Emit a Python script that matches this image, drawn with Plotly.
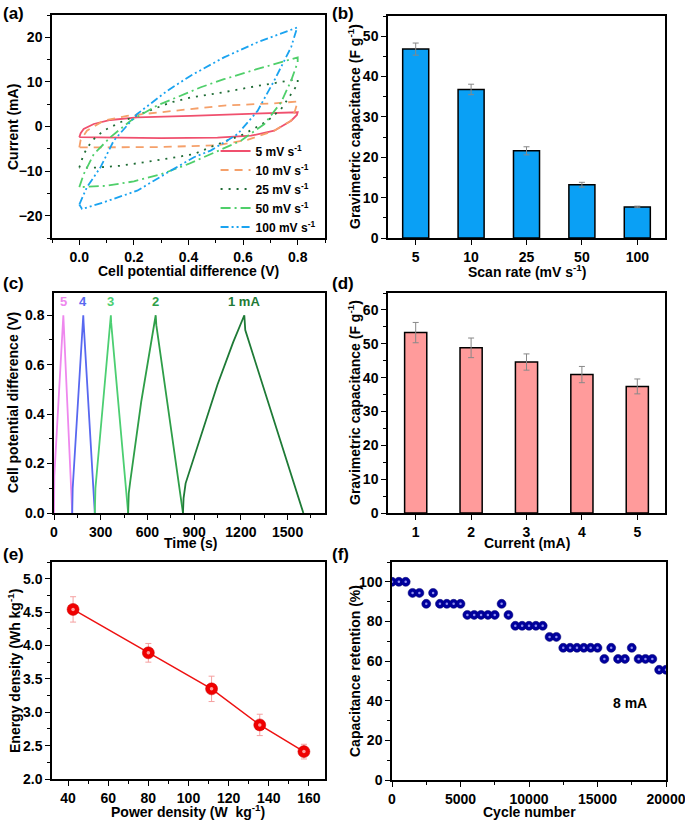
import plotly.graph_objects as go

W, H = 685, 820
FONT = "Liberation Sans"

# ---------------- (a) CV data ----------------
cv_labels = ["5 mV s<sup>-1</sup>", "10 mV s<sup>-1</sup>", "25 mV s<sup>-1</sup>",
             "50 mV s<sup>-1</sup>", "100 mV s<sup>-1</sup>"]
V5 = [0.0, 0.005, 0.016, 0.053, 0.114, 0.212, 0.408, 0.653, 0.8, 0.797, 0.776, 0.714, 0.629, 0.506, 0.3, 0.0]
I5 = [-2.4, -1.5, -0.56, 0.56, 1.46, 2.06, 2.4, 2.96, 3.2, 2.6, 1.3, -0.94, -2.06, -2.5, -2.6, -2.4]
V10 = [0.0, 0.005, 0.028, 0.089, 0.175, 0.408, 0.53, 0.714, 0.8, 0.79, 0.776, 0.714, 0.616, 0.506, 0.3, 0.0]
I10 = [-4.7, -3.0, -0.94, 1.3, 2.4, 3.9, 4.7, 5.2, 5.6, 3.5, 1.3, -0.94, -3.0, -4.2, -4.6, -4.7]
V25 = [0.0, 0.016, 0.046, 0.089, 0.15, 0.224, 0.335, 0.408, 0.53, 0.653, 0.8, 0.8, 0.776, 0.739, 0.69, 0.604,
       0.493, 0.42, 0.273, 0.15, 0.065, 0.0]
I25 = [-9.2, -6.2, -3.2, -0.94, 0.94, 2.8, 5.4, 6.5, 7.7, 9.1, 10.6, 9.5, 7.3, 3.9, 1.3, -1.7,
       -4.3, -6.2, -7.7, -8.8, -9.2, -9.2]
V50 = [0.0, 0.016, 0.053, 0.114, 0.188, 0.285, 0.445, 0.53, 0.653, 0.8, 0.8, 0.776, 0.739, 0.678, 0.592,
       0.481, 0.4, 0.3, 0.2, 0.1, 0.0]
I50 = [-13.6, -10.7, -6.2, -2.4, 1.3, 4.7, 8.8, 10.6, 12.9, 15.5, 14.4, 10.3, 5.4, 0.56, -3.2,
       -6.2, -8.4, -10.7, -12.3, -13.3, -13.6]
V100 = [0.0, 0.028, 0.077, 0.126, 0.212, 0.322, 0.408, 0.53, 0.653, 0.798, 0.776, 0.714, 0.653, 0.58,
        0.481, 0.42, 0.335, 0.212, 0.089, 0.01, 0.0]
I100 = [-17.5, -13.6, -9.2, -3.2, 2.8, 8.0, 11.4, 15.5, 18.9, 22.2, 17.8, 10.3, 3.5, -1.7,
        -5.4, -6.9, -9.9, -14.4, -17.0, -18.5, -17.5]
cv_colors = ["#f0506e", "#f5a06a", "#1e6b34", "#4fcf6a", "#1aa3f0"]
cv_dash = ["solid", "8px,6px", "2px,6px", "10px,4px,2px,4px", "8px,3px,2px,3px,2px,3px"]

# ---------------- (b) scan-rate bars ----------------
scan_rates = ["5", "10", "25", "50", "100"]
cap_scan = [46.8, 36.8, 21.6, 13.2, 7.7]
cap_scan_err = [1.5, 1.3, 1.0, 0.6, 0.2]

# ---------------- (c) GCD ----------------
gcd_labels = ["5", "4", "3", "2", "1 mA"]
gcd_t = [
    [0, 2, 60, 62, 117],
    [117, 120, 188, 190, 262],
    [262, 266, 365, 367, 476],
    [476, 480, 490, 560, 653, 657, 828],
    [828, 832, 845, 950, 1050, 1150, 1222, 1228, 1601],
]
gcd_v = [
    [0, 0.15, 0.8, 0.77, 0],
    [0, 0.1, 0.8, 0.77, 0],
    [0, 0.1, 0.8, 0.77, 0],
    [0, 0.08, 0.13, 0.45, 0.8, 0.76, 0],
    [0, 0.06, 0.12, 0.33, 0.52, 0.69, 0.8, 0.74, 0],
]
gcd_peak_t = [60, 188, 365, 653, 1222]
gcd_colors = ["#ee88ee", "#5868f0", "#4ccf72", "#2e9e48", "#1e7a36"]

# ---------------- (d) current bars ----------------
currents = ["1", "2", "3", "4", "5"]
cap_cur = [53.3, 48.8, 44.6, 40.9, 37.4]
cap_cur_err = [3.0, 2.9, 2.4, 2.4, 2.2]

# ---------------- (e) Ragone ----------------
power = [42.5, 80.0, 111.5, 135.5, 157.5]
energy = [4.54, 3.89, 3.35, 2.81, 2.41]
energy_err = [0.19, 0.14, 0.19, 0.16, 0.11]

# ---------------- (f) cycling ----------------
cycles = [0, 500, 1000, 1500, 2000, 2500, 3000, 3500, 4000, 4500, 5000, 5500, 6000, 6500, 7000, 7500,
          8000, 8500, 9000, 9500, 10000, 10500, 11000, 11500, 12000, 12500, 13000, 13500, 14000, 14500,
          15000, 15500, 16000, 16500, 17000, 17500, 18000, 18500, 19000, 19500, 20000]
retention = [100, 100, 100, 94.4, 94.4, 88.9, 94.4, 88.9, 88.9, 88.9, 88.9, 83.3, 83.3, 83.3, 83.3, 83.3,
             88.9, 83.3, 77.8, 77.8, 77.8, 77.8, 77.8, 72.2, 72.2, 66.7, 66.7, 66.7, 66.7, 66.7,
             66.7, 61.1, 66.7, 61.1, 61.1, 66.7, 61.1, 61.1, 61.1, 55.6, 55.6]

fig = go.Figure()

for k in range(5):
    fig.add_trace(go.Scatter(x=[V5, V10, V25, V50, V100][k], y=[I5, I10, I25, I50, I100][k],
                             mode="lines", name=cv_labels[k],
                             line=dict(color=cv_colors[k], width=1.8, dash=cv_dash[k]),
                             xaxis="x", yaxis="y"))

fig.add_trace(go.Bar(x=scan_rates, y=cap_scan, width=0.47,
                     marker=dict(color="#0aa0f5", line=dict(color="black", width=1.5)),
                     error_y=dict(type="data", array=cap_scan_err, color="#888888", thickness=1, width=3),
                     showlegend=False, xaxis="x2", yaxis="y2"))

for k in range(5):
    fig.add_trace(go.Scatter(x=gcd_t[k], y=gcd_v[k], mode="lines",
                             line=dict(color=gcd_colors[k], width=1.8),
                             showlegend=False, xaxis="x3", yaxis="y3"))

fig.add_trace(go.Bar(x=currents, y=cap_cur, width=0.4,
                     marker=dict(color="#ff9b9b", line=dict(color="black", width=1.5)),
                     error_y=dict(type="data", array=cap_cur_err, color="#888888", thickness=1, width=3),
                     showlegend=False, xaxis="x4", yaxis="y4"))

fig.add_trace(go.Scatter(x=power, y=energy, mode="lines+markers",
                         line=dict(color="#ee1111", width=1.5),
                         marker=dict(size=12, color="#f00000", line=dict(color="#c80000", width=0.5)),
                         error_y=dict(type="data", array=energy_err, color="#f5a0a0", thickness=1, width=3),
                         showlegend=False, xaxis="x5", yaxis="y5"))
fig.add_trace(go.Scatter(x=power, y=energy, mode="markers",
                         marker=dict(size=3.5, color="#ff9a9a", line=dict(width=0)),
                         hoverinfo="skip", showlegend=False, xaxis="x5", yaxis="y5"))

fig.add_trace(go.Scatter(x=cycles, y=retention, mode="markers",
                         marker=dict(size=9, color="#00009e", line=dict(color="#00006e", width=0.5)),
                         showlegend=False, xaxis="x6", yaxis="y6"))
fig.add_trace(go.Scatter(x=cycles, y=retention, mode="markers",
                         marker=dict(size=2.5, color="#9090f0", line=dict(width=0)),
                         hoverinfo="skip", showlegend=False, xaxis="x6", yaxis="y6"))

tickfont = dict(family=FONT, size=14, color="black", weight="bold")


def ax(domain, rng=None, dtick=None, minor=None, anchor=None, cat=False, fmt=None):
    d = dict(domain=domain, anchor=anchor, showline=True, linecolor="black", linewidth=1.5,
             mirror=True, ticks="outside", ticklen=5, tickwidth=1.3, tickcolor="black",
             showgrid=False, zeroline=False, tickfont=tickfont, ticklabeloverflow="allow",
             automargin=False)
    if rng is not None:
        d["range"] = rng
    if dtick is not None:
        d["dtick"] = dtick
        d["tick0"] = 0
    if minor is not None:
        d["minor"] = dict(ticks="outside", ticklen=3, dtick=minor, tickcolor="black", tickwidth=1, showgrid=False)
    if cat:
        d["type"] = "category"
    if fmt is not None:
        d["tickformat"] = fmt
    return d


def xd(a, b):
    return [a / W, b / W]


def yd(top, bottom):
    return [1 - bottom / H, 1 - top / H]


fig.update_layout(
    template="none",
    width=W, height=H, autosize=False, margin=dict(l=0, r=0, t=0, b=0, pad=0),
    paper_bgcolor="white", plot_bgcolor="white",
    font=dict(family=FONT, size=14, color="black", weight="bold"),
    xaxis=ax(xd(52, 325), [-0.1, 0.9], 0.2, 0.1, "y", fmt=".1f"),
    yaxis=ax(yd(15, 238), [-25, 25], 10, 5, "x"),
    xaxis2=ax(xd(388, 665), [-0.5, 4.5], None, None, "y2", cat=True),
    yaxis2=ax(yd(16, 238), [0, 55], 10, 5, "x2"),
    xaxis3=ax(xd(54, 325), [0, 1740], 300, 150, "y3"),
    yaxis3=ax(yd(293, 513), [0, 0.89], 0.2, 0.1, "x3", fmt=".1f"),
    xaxis4=ax(xd(388, 665), [-0.5, 4.5], None, None, "y4", cat=True),
    yaxis4=ax(yd(293, 513), [0, 65], 10, 5, "x4"),
    xaxis5=ax(xd(52, 325), [32, 168], 20, 10, "y5"),
    yaxis5=ax(yd(562, 779), [2.0, 5.25], 0.5, 0.25, "x5", fmt=".1f"),
    xaxis6=ax(xd(392, 666), [0, 20000], 5000, 2500, "y6", fmt="d"),
    yaxis6=ax(yd(562, 780), [0, 110], 20, 10, "x6"),
    legend=dict(x=0.468, y=1 - 189 / H, xanchor="right", yanchor="middle", bgcolor="rgba(0,0,0,0)",
                font=dict(family=FONT, size=12, color="black", weight="bold"),
                tracegroupgap=0, itemwidth=30, borderwidth=0),
    showlegend=True,
)

annotations = []


def txt(text, px, py, size=14, angle=0, color="black", xanchor="center", yanchor="middle"):
    annotations.append(dict(text=text, x=px / W, y=1 - py / H, xref="paper", yref="paper",
                            xanchor=xanchor, yanchor=yanchor, textangle=angle, showarrow=False,
                            font=dict(family=FONT, size=size, color=color, weight="bold")))


# panel labels
for lab, px, py in [("(a)", 1, 2), ("(b)", 330, 2), ("(c)", 1, 272), ("(d)", 330, 272),
                    ("(e)", 1, 543), ("(f)", 330, 543)]:
    txt(lab, px, py, size=17, xanchor="left", yanchor="top")

# axis titles
txt("Cell potential difference (V)", 188, 271)
txt("Current (mA)", 13, 127, angle=-90)
txt("Scan rate (mV s<sup>-1</sup>)", 527, 271)
txt("Gravimetric capacitance (F g<sup>-1</sup>)", 354, 127, angle=-90)
txt("Time (s)", 190, 543)
txt("Cell potential difference (V)", 13, 403, angle=-90)
txt("Current (mA)", 527, 543)
txt("Gravimetric capacitance (F g<sup>-1</sup>)", 354, 403, angle=-90)
txt("Power density (W  kg<sup>-1</sup>)", 188, 811)
txt("Energy density (Wh kg<sup>-1</sup>)", 14, 671, angle=-90)
txt("Cycle number", 529, 812)
txt("Capacitance retention (%)", 355, 671, angle=-90)

for k in range(5):
    annotations.append(dict(text=gcd_labels[k], x=gcd_peak_t[k], y=0.8, xref="x3", yref="y3",
                            yanchor="bottom", yshift=4, showarrow=False,
                            font=dict(family=FONT, size=13, color=gcd_colors[k], weight="bold")))
annotations.append(dict(text="8 mA", x=17400, y=39, xref="x6", yref="y6", showarrow=False,
                        font=dict(family=FONT, size=14, color="black", weight="bold")))
fig.update_layout(annotations=annotations)

fig.write_html(
    "out.html",
    config={"displayModeBar": False, "responsive": False},
    post_script=("document.documentElement.style.overflow='hidden';"
                 "document.documentElement.style.margin='0';"
                 "document.body.style.margin='0';document.body.style.padding='0';"
                 "document.body.style.overflow='hidden';"),
)
